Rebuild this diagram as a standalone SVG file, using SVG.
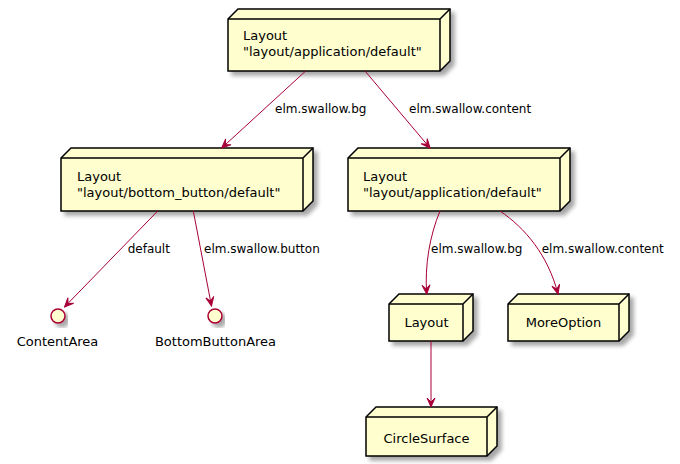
<svg xmlns="http://www.w3.org/2000/svg" width="680" height="464" viewBox="0 0 680 464">
<style>
.node{fill:#FEFECE;stroke:#000000;stroke-width:1.5;}
.ln{fill:none;stroke:#000000;stroke-width:1.5;}
.edge{fill:none;stroke:#A80036;stroke-width:1;}
.t{font-family:"DejaVu Sans",sans-serif;font-size:13px;fill:#000000;}
.el{font-family:"DejaVu Sans",sans-serif;font-size:12px;fill:#000000;}
.c{text-anchor:middle;}
</style>
<defs>
<filter id="sh" x="-10%" y="-10%" width="130%" height="140%">
<feGaussianBlur in="SourceAlpha" stdDeviation="2"/>
<feOffset dx="4" dy="4" result="b"/>
<feComponentTransfer><feFuncA type="linear" slope="0.35"/></feComponentTransfer>
<feMerge><feMergeNode/><feMergeNode in="SourceGraphic"/></feMerge>
</filter>
<marker id="ah" markerUnits="userSpaceOnUse" viewBox="-10 -5 11 10" refX="0" refY="0" markerWidth="11" markerHeight="10" orient="auto">
<polygon points="0,0 -9,-4 -5,0 -9,4" fill="#A80036" stroke="#A80036" stroke-width="1"/>
</marker>
</defs>

<g id="n_top">
<polygon class="node" filter="url(#sh)" points="228,19 238,9 450,9 450,61 440,71 228,71"/>
<path class="ln" d="M440,19 L450,9 M228,19 L440,19 L440,71"/>
<text class="t" x="243" y="40">Layout</text>
<text class="t" x="243" y="56">"layout/application/default"</text>
</g>

<g id="n_bottom_button">
<polygon class="node" filter="url(#sh)" points="61,158 71,148 313,148 313,201 303,211 61,211"/>
<path class="ln" d="M303,158 L313,148 M61,158 L303,158 L303,211"/>
<text class="t" x="77" y="180.5">Layout</text>
<text class="t" x="77" y="196.5">"layout/bottom_button/default"</text>
</g>

<g id="n_app2">
<polygon class="node" filter="url(#sh)" points="348,158 358,148 570,148 570,201 560,211 348,211"/>
<path class="ln" d="M560,158 L570,148 M348,158 L560,158 L560,211"/>
<text class="t" x="363" y="180.5">Layout</text>
<text class="t" x="363" y="196.5">"layout/application/default"</text>
</g>

<g id="n_layout">
<polygon class="node" filter="url(#sh)" points="389,304 399,294 473,294 473,331 463,341 389,341"/>
<path class="ln" d="M463,304 L473,294 M389,304 L463,304 L463,341"/>
<text class="t c" x="426.5" y="327">Layout</text>
</g>

<g id="n_moreoption">
<polygon class="node" filter="url(#sh)" points="508,304 518,294 629,294 629,331 619,341 508,341"/>
<path class="ln" d="M619,304 L629,294 M508,304 L619,304 L619,341"/>
<text class="t c" x="563.5" y="327">MoreOption</text>
</g>

<g id="n_circlesurface">
<polygon class="node" filter="url(#sh)" points="366,417 376,407 497,407 497,446 487,456 366,456"/>
<path class="ln" d="M487,417 L497,407 M366,417 L487,417 L487,456"/>
<text class="t c" x="426.5" y="443">CircleSurface</text>
</g>

<g id="i_contentarea">
<circle cx="58" cy="316" r="7" fill="#FEFECE" stroke="#A80036" stroke-width="1.5" filter="url(#sh)"/>
<text class="t c" x="57.5" y="346">ContentArea</text>
</g>

<g id="i_bottombuttonarea">
<circle cx="215" cy="316" r="7" fill="#FEFECE" stroke="#A80036" stroke-width="1.5" filter="url(#sh)"/>
<text class="t c" x="215.5" y="346">BottomButtonArea</text>
</g>

<g id="connectors">
<path class="edge" marker-end="url(#ah)" d="M305.7,71 L221.7,148"/>
<path class="edge" marker-end="url(#ah)" d="M365,71 L430,148"/>
<path class="edge" marker-end="url(#ah)" d="M157.7,211 L64.5,307"/>
<path class="edge" marker-end="url(#ah)" d="M193.3,211 L211.5,306"/>
<path class="edge" marker-end="url(#ah)" d="M440,211 C430,235 424.5,265 426.7,294"/>
<path class="edge" marker-end="url(#ah)" d="M500,211 C525,228 548,255 558,294"/>
<path class="edge" marker-end="url(#ah)" d="M431,341 L431,407"/>
<text class="el" x="275" y="113">elm.swallow.bg</text>
<text class="el" x="409" y="113">elm.swallow.content</text>
<text class="el" x="127.7" y="253">default</text>
<text class="el" x="204" y="253">elm.swallow.button</text>
<text class="el" x="431" y="253">elm.swallow.bg</text>
<text class="el" x="541.7" y="253">elm.swallow.content</text>
</g>
</svg>
